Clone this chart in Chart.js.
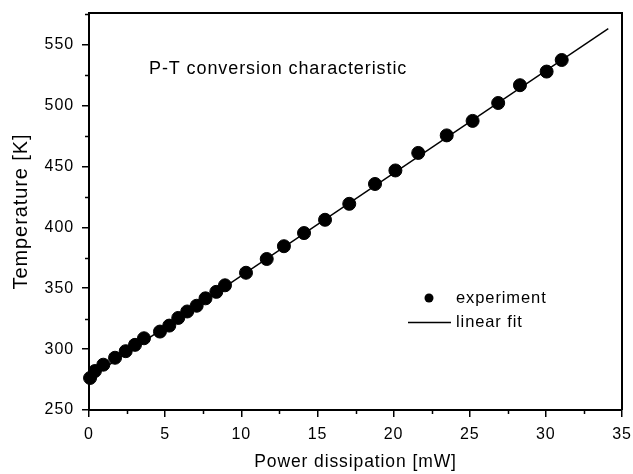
<!DOCTYPE html>
<html>
<head>
<meta charset="utf-8">
<script src="https://cdn.jsdelivr.net/npm/chart.js@4.4.1/dist/chart.umd.min.js"></script>
<style>
  html, body { margin: 0; padding: 0; background: #fff; }
  #wrap { width: 633px; height: 474px; }
</style>
</head>
<body>
<div id="wrap"><canvas id="pt-chart" width="633" height="474"></canvas></div>
<script>
// measured points
const power = [0.07, 0.39, 0.94, 1.71, 2.41, 3.02, 3.61, 4.66, 5.27, 5.86,
    6.45, 7.07, 7.65, 8.36, 8.93, 10.31, 11.67, 12.8, 14.12, 15.5,
    17.09, 18.78, 20.12, 21.62, 23.49, 25.19, 26.87, 28.3, 30.05, 31.04];
const temperature = [276.3, 282.0, 287.2, 292.9, 298.3, 303.5, 308.9, 314.4, 319.3, 325.6,
    330.9, 335.6, 341.7, 347.0, 352.4, 362.7, 374.0, 384.5, 395.3, 406.2,
    419.3, 435.6, 446.7, 461.1, 475.5, 487.4, 502.1, 516.7, 527.9, 537.4];

// fitted line end points
const fitPower = [0, 34.1];
const fitTemp = [276, 563.2];

const xTicks = [0, 5, 10, 15, 20, 25, 30, 35];
const yTicks = [250, 300, 350, 400, 450, 500, 550];

const FONT = "'Liberation Sans', Arial, sans-serif";

// the original lettering is a bit wider than Arial
const spacing = {
    id: 'spacing',
    beforeDraw(chart) {
        chart.ctx.letterSpacing = '0.9px';
    }
};

// keep scales from pushing the plot area inwards
function noPad(s) {
    s.paddingLeft = 0;
    s.paddingRight = 0;
    s.paddingTop = 0;
    s.paddingBottom = 0;
}

// frame, minor ticks, title and legend
const decorations = {
    id: 'decorations',
    afterDraw(chart) {
        const ctx = chart.ctx;
        const area = chart.chartArea;
        const xs = chart.scales.x;
        const ys = chart.scales.y;
        ctx.save();
        ctx.strokeStyle = '#000';
        ctx.lineWidth = 2;
        ctx.beginPath();
        ctx.moveTo(area.left, area.top);
        ctx.lineTo(area.right, area.top);
        ctx.lineTo(area.right, area.bottom);
        ctx.stroke();

        // minor ticks
        ctx.lineWidth = 1.5;
        ctx.beginPath();
        for (let i = 0; i < xTicks.length - 1; i++) {
            const px = Math.round(xs.getPixelForValue((xTicks[i] + xTicks[i + 1]) / 2)) + 0.5;
            ctx.moveTo(px, area.bottom);
            ctx.lineTo(px, area.bottom + 4);
        }
        for (let i = 0; i < yTicks.length; i++) {
            const v = yTicks[i] + 25;
            if (v > ys.max) break;
            const py = Math.round(ys.getPixelForValue(v)) + 0.5;
            ctx.moveTo(area.left, py);
            ctx.lineTo(area.left - 4, py);
        }
        ctx.stroke();

        ctx.fillStyle = '#000';
        ctx.textBaseline = 'middle';
        ctx.textAlign = 'left';
        ctx.font = '18px ' + FONT;
        ctx.fillText('P-T conversion characteristic', 149, 69);

        // legend
        ctx.font = '16.5px ' + FONT;
        ctx.beginPath();
        ctx.arc(429, 298, 4.5, 0, Math.PI * 2);
        ctx.fill();
        ctx.fillText('experiment', 456, 298);
        ctx.beginPath();
        ctx.lineWidth = 1.3;
        ctx.moveTo(408, 322.5);
        ctx.lineTo(451, 322.5);
        ctx.stroke();
        ctx.fillText('linear fit', 456, 322);
        ctx.restore();
    }
};

const ctx = document.getElementById('pt-chart').getContext('2d');
new Chart(ctx, {
    type: 'scatter',
    data: {
        datasets: [
            {
                label: 'linear fit',
                type: 'line',
                data: fitPower.map((p, i) => ({ x: p, y: fitTemp[i] })),
                borderColor: '#000',
                borderWidth: 1.4,
                pointRadius: 0,
                fill: false,
                order: 2,
            },
            {
                label: 'experiment',
                data: power.map((p, i) => ({ x: p, y: temperature[i] })),
                backgroundColor: '#000',
                borderColor: '#000',
                pointRadius: 6.5,
                pointHoverRadius: 6.5,
                order: 1,
            },
        ]
    },
    options: {
        responsive: false,
        animation: false,
        events: [],
        clip: false,
        layout: {
            autoPadding: false,
            padding: { top: 13, right: 11, left: 0, bottom: 0 }
        },
        plugins: {
            legend: { display: false },
            tooltip: { enabled: false },
        },
        scales: {
            x: {
                type: 'linear',
                min: 0,
                max: 35,
                afterBuildTicks: s => { s.ticks = xTicks.map(v => ({ value: v })); },
                afterFit: s => { s.height = 64; noPad(s); },
                ticks: {
                    color: '#000',
                    font: { family: FONT, size: 16 },
                    padding: 8,
                },
                grid: {
                    drawOnChartArea: false,
                    drawTicks: true,
                    tickLength: 7,
                    color: '#000',
                    lineWidth: 1.5,
                },
                border: { display: true, color: '#000', width: 2 },
                title: {
                    display: true,
                    text: 'Power dissipation [mW]',
                    color: '#000',
                    font: { family: FONT, size: 17.5 },
                    padding: { top: 0, bottom: 1 },
                },
            },
            y: {
                type: 'linear',
                min: 250,
                max: 576,
                afterBuildTicks: s => { s.ticks = yTicks.map(v => ({ value: v })); },
                afterFit: s => { s.width = 89; noPad(s); },
                ticks: {
                    color: '#000',
                    font: { family: FONT, size: 16 },
                    padding: 8,
                },
                grid: {
                    drawOnChartArea: false,
                    drawTicks: true,
                    tickLength: 7,
                    color: '#000',
                    lineWidth: 1.5,
                },
                border: { display: true, color: '#000', width: 2 },
                title: {
                    display: true,
                    text: 'Temperature [K]',
                    color: '#000',
                    font: { family: FONT, size: 20 },
                    padding: { top: 9, bottom: 0 },
                },
            }
        }
    },
    plugins: [spacing, decorations]
});
</script>
</body>
</html>
